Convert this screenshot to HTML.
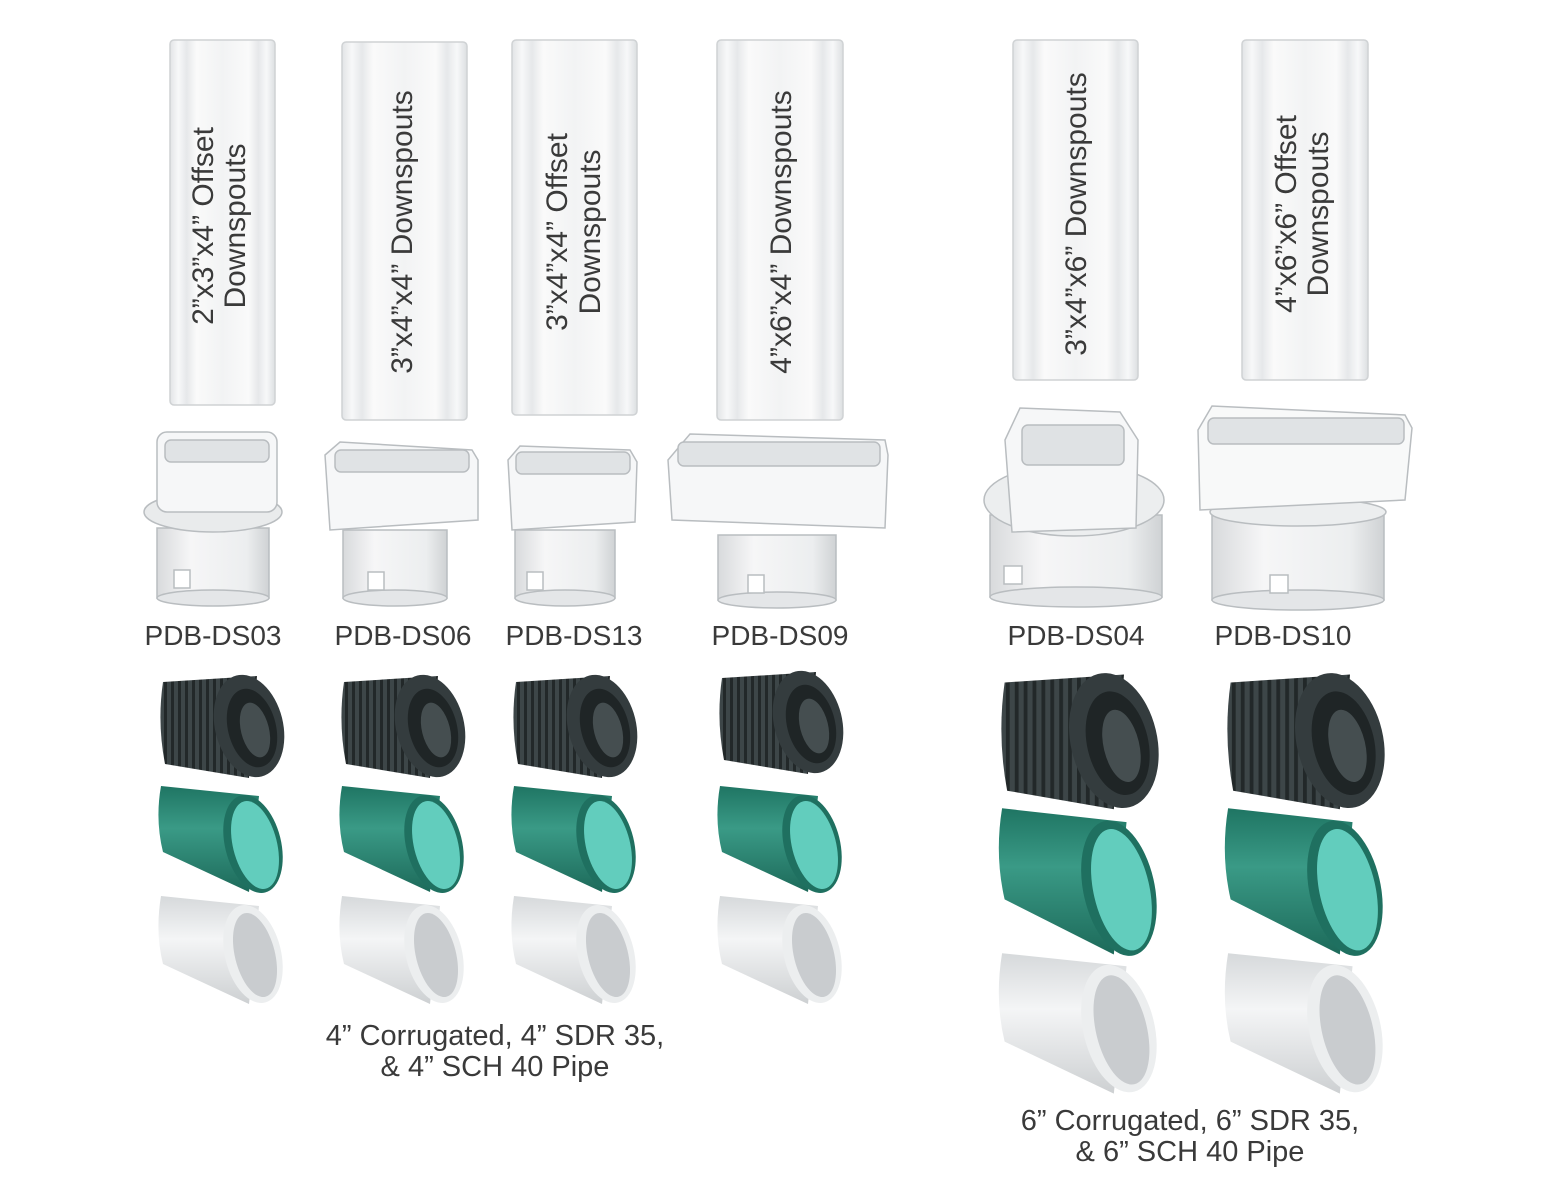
<!DOCTYPE html>
<html><head><meta charset="utf-8"><style>
html,body{margin:0;padding:0;background:#fff}
svg{display:block}
text{font-family:"Liberation Sans",sans-serif;fill:#3a3a3a}
</style></head><body>
<svg width="1552" height="1200" viewBox="0 0 1552 1200" xmlns="http://www.w3.org/2000/svg">
<defs>
<linearGradient id="ds" x1="0" x2="1" y1="0" y2="0">
<stop offset="0" stop-color="#e2e4e6"/><stop offset="0.08" stop-color="#f7f8f9"/><stop offset="0.16" stop-color="#e6e8ea"/><stop offset="0.25" stop-color="#fafafa"/><stop offset="0.5" stop-color="#f2f3f4"/><stop offset="0.75" stop-color="#fafafa"/><stop offset="0.84" stop-color="#e6e8ea"/><stop offset="0.92" stop-color="#f7f8f9"/><stop offset="1" stop-color="#dcdfe1"/>
</linearGradient>
<linearGradient id="cyl" x1="0" x2="1"><stop offset="0" stop-color="#d8dadc"/><stop offset="0.3" stop-color="#f6f6f7"/><stop offset="0.8" stop-color="#eceeef"/><stop offset="1" stop-color="#cfd2d4"/></linearGradient>
<linearGradient id="grn" x1="0" y1="0" x2="0" y2="1"><stop offset="0" stop-color="#1f7563"/><stop offset="0.4" stop-color="#3a9a86"/><stop offset="1" stop-color="#1d6a5a"/></linearGradient>
<linearGradient id="wht" x1="0" y1="0" x2="0" y2="1"><stop offset="0" stop-color="#d6d9db"/><stop offset="0.4" stop-color="#f4f5f6"/><stop offset="1" stop-color="#cdd0d2"/></linearGradient>
<pattern id="rib" width="7" height="10" patternUnits="userSpaceOnUse"><rect width="7" height="10" fill="#3d4648"/><rect width="3" height="10" fill="#222829"/></pattern>
<g id="pB"><path d="M6,14 Q0,55 8,96 L92,110 L100,8 Z" fill="url(#rib)"/><ellipse cx="92" cy="58" rx="34" ry="52" transform="rotate(-14 92 58)" fill="#343c3e"/><ellipse cx="95" cy="60" rx="24" ry="40" transform="rotate(-14 95 60)" fill="#1f2526"/><ellipse cx="98" cy="62" rx="14" ry="28" transform="rotate(-14 98 62)" fill="#454e50"/></g>
<g id="pG"><path d="M4,6 Q-2,40 6,72 L92,112 L102,16 Z" fill="url(#grn)"/><ellipse cx="96" cy="64" rx="28" ry="50" transform="rotate(-14 96 64)" fill="#1f7060"/><ellipse cx="98" cy="65" rx="22" ry="45" transform="rotate(-14 98 65)" fill="#62cdbd"/></g>
<g id="pW"><path d="M4,4 Q-2,40 6,72 L92,112 L102,14 Z" fill="url(#wht)"/><ellipse cx="96" cy="62" rx="28" ry="50" transform="rotate(-14 96 62)" fill="#eceeef"/><ellipse cx="98" cy="63" rx="20" ry="43" transform="rotate(-14 98 63)" fill="#c9cccf"/></g>
</defs>

<g stroke="#cfd2d4" stroke-width="1.5" fill="url(#ds)">
<rect x="170" y="40" width="105" height="365" rx="4"/>
<rect x="342" y="42" width="125" height="378" rx="4"/>
<rect x="512" y="40" width="125" height="375" rx="4"/>
<rect x="717" y="40" width="126" height="380" rx="4"/>
<rect x="1013" y="40" width="125" height="340" rx="4"/>
<rect x="1242" y="40" width="126" height="340" rx="4"/>
</g>
<g font-size="30" text-anchor="middle">
<text transform="translate(213,226) rotate(-90)">2”x3”x4” Offset</text>
<text transform="translate(245,226) rotate(-90)">Downspouts</text>
<text transform="translate(412,232) rotate(-90)">3”x4”x4” Downspouts</text>
<text transform="translate(567,232) rotate(-90)">3”x4”x4” Offset</text>
<text transform="translate(600,232) rotate(-90)">Downspouts</text>
<text transform="translate(791,232) rotate(-90)">4”x6”x4” Downspouts</text>
<text transform="translate(1086,214) rotate(-90)">3”x4”x6” Downspouts</text>
<text transform="translate(1296,214) rotate(-90)">4”x6”x6” Offset</text>
<text transform="translate(1328,214) rotate(-90)">Downspouts</text>
</g>

<g stroke="#b9bdc0" stroke-width="1.5">
<rect x="157" y="528" width="112" height="70" fill="url(#cyl)"/><ellipse cx="213" cy="598" rx="56" ry="8" fill="#e4e6e8"/>
<ellipse cx="213" cy="512" rx="69" ry="20" fill="#e9ebec"/>
<rect x="157" y="432" width="120" height="80" rx="10" fill="#f6f7f8"/><rect x="165" y="440" width="104" height="22" rx="6" fill="#e0e3e5"/>
<rect x="174" y="570" width="16" height="18" fill="#fff"/>
<rect x="343" y="530" width="104" height="68" fill="url(#cyl)"/><ellipse cx="395" cy="598" rx="52" ry="8" fill="#e4e6e8"/>
<path d="M325,455 L340,442 L472,450 L478,460 L478,520 L330,530 Z" fill="#f6f7f8"/><rect x="335" y="450" width="134" height="22" rx="6" fill="#e0e3e5"/>
<rect x="368" y="572" width="16" height="18" fill="#fff"/>
<rect x="515" y="530" width="100" height="68" fill="url(#cyl)"/><ellipse cx="565" cy="598" rx="50" ry="8" fill="#e4e6e8"/>
<path d="M508,460 L520,446 L630,450 L637,462 L635,522 L512,530 Z" fill="#f6f7f8"/><rect x="516" y="452" width="114" height="22" rx="6" fill="#e0e3e5"/>
<rect x="527" y="572" width="16" height="18" fill="#fff"/>
<rect x="718" y="535" width="118" height="65" fill="url(#cyl)"/><ellipse cx="777" cy="600" rx="59" ry="8" fill="#e4e6e8"/>
<path d="M668,460 L690,434 L885,440 L888,455 L885,528 L672,520 Z" fill="#f6f7f8"/><rect x="678" y="442" width="202" height="24" rx="6" fill="#e0e3e5"/>
<rect x="748" y="575" width="16" height="18" fill="#fff"/>
<rect x="990" y="515" width="172" height="82" fill="url(#cyl)"/><ellipse cx="1076" cy="597" rx="86" ry="10" fill="#e4e6e8"/>
<ellipse cx="1074" cy="500" rx="90" ry="36" fill="#eceeef"/>
<path d="M1005,440 L1020,408 L1120,412 L1138,440 L1136,528 L1012,532 Z" fill="#f6f7f8"/><rect x="1022" y="425" width="102" height="40" rx="6" fill="#dfe2e4"/>
<rect x="1004" y="566" width="18" height="18" fill="#fff"/>
<rect x="1212" y="515" width="172" height="85" fill="url(#cyl)"/><ellipse cx="1298" cy="600" rx="86" ry="10" fill="#e4e6e8"/>
<ellipse cx="1298" cy="512" rx="88" ry="14" fill="#eceeef"/>
<path d="M1198,430 L1212,406 L1405,415 L1412,428 L1405,500 L1200,510 Z" fill="#f8f9f9"/><rect x="1208" y="418" width="196" height="26" rx="6" fill="#e0e3e5"/>
<rect x="1270" y="575" width="18" height="18" fill="#fff"/>
</g>

<g font-size="28" text-anchor="middle">
<text x="213" y="645">PDB-DS03</text>
<text x="403" y="645">PDB-DS06</text>
<text x="574" y="645">PDB-DS13</text>
<text x="780" y="645">PDB-DS09</text>
<text x="1076" y="645">PDB-DS04</text>
<text x="1283" y="645">PDB-DS10</text>
</g>

<use href="#pB" transform="translate(157,668)"/><use href="#pG" transform="translate(157,780)"/><use href="#pW" transform="translate(157,892)"/>
<use href="#pB" transform="translate(338,668)"/><use href="#pG" transform="translate(338,780)"/><use href="#pW" transform="translate(338,892)"/>
<use href="#pB" transform="translate(510,668)"/><use href="#pG" transform="translate(510,780)"/><use href="#pW" transform="translate(510,892)"/>
<use href="#pB" transform="translate(716,664)"/><use href="#pG" transform="translate(716,780)"/><use href="#pW" transform="translate(716,892)"/>
<use href="#pB" transform="translate(997,664) scale(1.27,1.32)"/><use href="#pG" transform="translate(997,800) scale(1.27,1.38)"/><use href="#pW" transform="translate(997,948) scale(1.27,1.3)"/>
<use href="#pB" transform="translate(1223,664) scale(1.27,1.32)"/><use href="#pG" transform="translate(1223,800) scale(1.27,1.38)"/><use href="#pW" transform="translate(1223,948) scale(1.27,1.3)"/>

<g font-size="29" text-anchor="middle">
<text x="495" y="1045">4” Corrugated, 4” SDR 35,</text>
<text x="495" y="1076">&amp; 4” SCH 40 Pipe</text>
<text x="1190" y="1130">6” Corrugated, 6” SDR 35,</text>
<text x="1190" y="1161">&amp; 6” SCH 40 Pipe</text>
</g>
</svg>
</body></html>
